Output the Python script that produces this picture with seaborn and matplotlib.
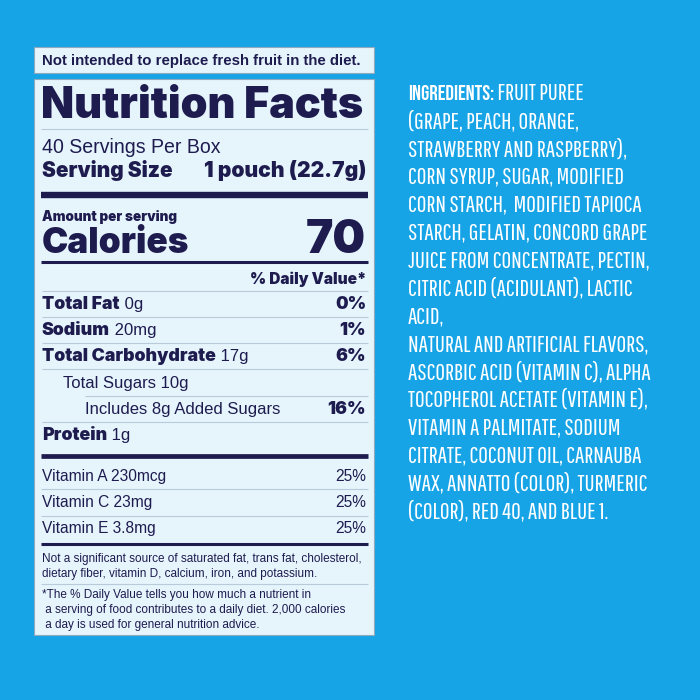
import matplotlib
matplotlib.use("Agg")
import matplotlib.pyplot as plt
import seaborn as sns
from matplotlib.patches import Rectangle

# --- label content ---
warning = "Not intended to replace fresh fruit in the diet."
title = "Nutrition Facts"
servings = "40 Servings Per Box"
serving_size = "1 pouch (22.7g)"
calories = "70"

nutrients = ["Total Fat", "Sodium", "Total Carbohydrate", "Total Sugars", "Includes 8g Added Sugars", "Protein"]
amounts = ["0g", "20mg", "17g", "10g", "", "1g"]
daily_values = ["0%", "1%", "6%", "", "16%", ""]

vitamins = ["Vitamin A", "Vitamin C", "Vitamin E"]
vitamin_amounts = ["230mcg", "23mg", "3.8mg"]
vitamin_dv = ["25%", "25%", "25%"]

footnote1 = ["Not a significant source of saturated fat, trans fat, cholesterol,",
             "dietary fiber, vitamin D, calcium, iron, and potassium."]
footnote2 = ["*The % Daily Value tells you how much a nutrient in",
             " a serving of food contributes to a daily diet. 2,000 calories",
             " a day is used for general nutrition advice."]

ingredients = ["FRUIT PUREE",
               "(GRAPE, PEACH, ORANGE,",
               "STRAWBERRY AND RASPBERRY),",
               "CORN SYRUP, SUGAR, MODIFIED",
               "CORN STARCH,  MODIFIED TAPIOCA",
               "STARCH, GELATIN, CONCORD GRAPE",
               "JUICE FROM CONCENTRATE, PECTIN,",
               "CITRIC ACID (ACIDULANT), LACTIC",
               "ACID,",
               "NATURAL AND ARTIFICIAL FLAVORS,",
               "ASCORBIC ACID (VITAMIN C), ALPHA",
               "TOCOPHEROL ACETATE (VITAMIN E),",
               "VITAMIN A PALMITATE, SODIUM",
               "CITRATE, COCONUT OIL, CARNAUBA",
               "WAX, ANNATTO (COLOR), TURMERIC",
               "(COLOR), RED 40, AND BLUE 1."]

# --- style ---
BG = "#17a4e7"
FILL = "#e6f5fc"
NAVY = "#1e1b4f"
THIN = "#b7cbd8"
REG = dict(family=["Liberation Sans", "DejaVu Sans"], color=NAVY)
BLK = dict(family=["Inter", "DejaVu Sans"], weight=900, color=NAVY)
ING = dict(family=["Pathway Gothic One", "DejaVu Sans"], color="white")
ING_B = dict(family=["Bebas Neue", "DejaVu Sans"], color="white")

sns.set_theme(style="white")
fig = plt.figure(figsize=(7, 7), dpi=100)
fig.patch.set_facecolor(BG)
ax = fig.add_axes([0, 0, 1, 1])
ax.set_xlim(0, 700)
ax.set_ylim(700, 0)
ax.axis("off")
renderer = fig.canvas.get_renderer()

L, R = 42, 366  # inner text edges


def width(s, size, **kw):
    t = ax.text(0, 0, s, fontsize=size, **kw)
    w = t.get_window_extent(renderer).width
    t.remove()
    return w


def fit(s, target, **kw):
    return 10 * target / width(s, 10, **kw)


def put(x, y, s, size, ha="left", **kw):
    ax.text(x, y, s, fontsize=size, ha=ha, va="baseline", **kw)
    return x + width(s, size, **kw)


def hline(y, lw, color=NAVY, x0=L - 1, x1=R + 2):
    ax.plot([x0, x1], [y, y], color=color, lw=lw, solid_capstyle="butt")


# boxes
ax.add_patch(Rectangle((34, 47), 340, 26, facecolor=FILL, edgecolor="#8fa9bd", lw=0.8))
ax.add_patch(Rectangle((34, 79), 340, 556, facecolor=FILL, edgecolor="#8fa9bd", lw=0.8))

put(L, 65, warning, fit(warning, 322, weight="bold", **REG), weight="bold", **REG)
put(L - 1, 118, title, fit(title, 324, **BLK), **BLK)
hline(129, 0.8, THIN)

s_vit = fit("Vitamin A 230mcg", 125, **REG)
s_reg = fit("Total Sugars 10g", 125, **REG)
s_blk = fit("Total Carbohydrate", 175, **BLK)

put(L, 153, servings, fit(servings, 179, **REG), **REG)
put(L, 177, "Serving Size", fit("Serving Size", 131, **BLK), **BLK)
put(R, 177, serving_size, fit(serving_size, 163, **BLK), ha="right", **BLK)
hline(195, 4.6)

put(L, 221, "Amount per serving", fit("Amount per serving", 136, **BLK), **BLK)
put(L, 253, "Calories", fit("Calories", 148, **BLK), **BLK)
put(R, 253, calories, fit(calories, 60, **BLK), ha="right", **BLK)
hline(262, 2.2)

put(R, 284, "% Daily Value*", fit("% Daily Value*", 117, **BLK), ha="right", **BLK)

row_y = [309, 335, 361, 388, 414, 440]
row_x = [L, L, L, 63, 85, L]
row_bold = [True, True, True, False, False, True]
line_y = [291, 317, 343, 369, 396, 422]
line_x = [L, L, L, L, 85, L]
for y, x0 in zip(line_y, line_x):
    hline(y, 0.8, THIN, x0=x0)
for name, amt, dv, y, x, b in zip(nutrients, amounts, daily_values, row_y, row_x, row_bold):
    if b:
        x = put(x, y, name, s_blk, **BLK)
    else:
        x = put(x, y, name, s_reg, **REG)
    if amt:
        put(x, y, " " + amt, s_reg, **REG)
    if dv:
        put(R, y, dv, s_blk, ha="right", **BLK)

hline(456, 3.4)
vit_y = [481, 507, 533]
for y in [489, 516]:
    hline(y, 0.8, THIN)
for name, amt, dv, y in zip(vitamins, vitamin_amounts, vitamin_dv, vit_y):
    put(L, y, name + " " + amt, s_vit, **REG)
    put(R, y, dv, s_vit, ha="right", **REG)
hline(544, 2.2)

s_foot = fit(footnote1[0], 322, **REG)
for s, y in zip(footnote1, [562, 577]):
    put(L, y, s, s_foot, **REG)
hline(584, 0.8, THIN)
for s, y in zip(footnote2, [598, 613, 628]):
    put(L, y, s, s_foot, **REG)

# ingredients column
IX = 408
s_ing = fit(ingredients[2], 220, **ING)
for i, s in enumerate(ingredients):
    y = 100 + i * 27.87
    x = IX
    if i == 0:
        x = put(x, y, "INGREDIENTS:", fit("INGREDIENTS:", 87, **ING_B), **ING_B)
        s = " " + s
    put(x, y, s, s_ing, **ING)

fig.savefig("out.png", dpi=100, facecolor=BG)
